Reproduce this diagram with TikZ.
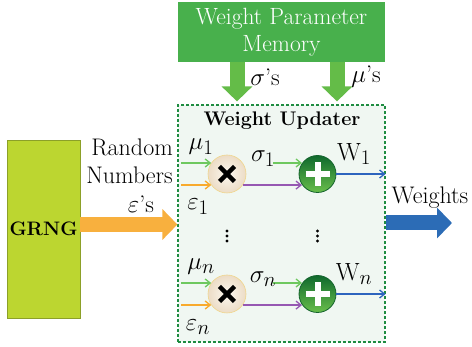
\documentclass[tikz,border=0pt]{standalone}
\usetikzlibrary{positioning, arrows.meta}

\definecolor{memgreen}{RGB}{72,176,76}
\definecolor{downgreen}{RGB}{100,188,72}
\definecolor{boxgreen}{RGB}{30,140,65}
\definecolor{boxfill}{RGB}{240,247,242}
\definecolor{grngfill}{RGB}{188,214,48}
\definecolor{grngline}{RGB}{140,160,40}
\definecolor{randorange}{RGB}{248,176,62}
\definecolor{outblue}{RGB}{44,108,182}
\definecolor{ingreen}{RGB}{110,200,95}
\definecolor{inorange}{RGB}{248,170,45}
\definecolor{mulpurple}{RGB}{150,88,178}
\definecolor{wblue}{RGB}{45,100,190}

\newcommand{\lbl}{\fontsize{24}{28}\selectfont}

\begin{document}
\begin{tikzpicture}[x=1pt, y=-1pt,
        fat/.style={line width=15pt, -{Triangle[length=15pt 0 0, width=30pt 0 0]}},
        thin arrow/.style={line width=1.3pt, -{Straight Barb[length=5pt, width=8pt]}},
        mulnode/.style={circle, minimum size=38pt, inner sep=0pt, draw={rgb,255:red,240;green,214;blue,140}, line width=0.6pt,
            inner color={rgb,255:red,252;green,248;blue,240}, outer color={rgb,255:red,236;green,220;blue,198},
            path picture={\draw[black, line width=4.5pt]
                ([shift={(-7.5pt,-7.5pt)}]path picture bounding box.center) -- ([shift={(7.5pt,7.5pt)}]path picture bounding box.center)
                ([shift={(-7.5pt,7.5pt)}]path picture bounding box.center) -- ([shift={(7.5pt,-7.5pt)}]path picture bounding box.center);}},
        addnode/.style={circle, minimum size=37pt, inner sep=0pt, draw={rgb,255:red,20;green,100;blue,45}, line width=0.8pt,
            top color={rgb,255:red,15;green,105;blue,45}, bottom color={rgb,255:red,105;green,190;blue,75},
            path picture={\draw[line width=6pt, white]
                ([xshift=-12pt]path picture bounding box.center) -- ([xshift=12pt]path picture bounding box.center)
                ([yshift=-12pt]path picture bounding box.center) -- ([yshift=12pt]path picture bounding box.center);}},
        glbl/.style={font=\fontsize{24.88}{26}\selectfont, inner sep=0pt}
    ]

        \useasboundingbox (0,0) rectangle (472,347);

        % Boxes
        \node[fill=memgreen, minimum width=207pt, minimum height=60pt, inner sep=0pt, text=white, align=center,
            font=\fontsize{23.5}{27}\selectfont] (mem) at (281.5,32) {Weight Parameter\\Memory};
        \node[fill=boxfill, draw=boxgreen, line width=1.2pt, dash pattern=on 3pt off 2pt,
            minimum width=207pt, minimum height=237pt] (upd) at (281.5,223.5) {};
        \node[font=\fontsize{20.74}{22}\selectfont\bfseries, inner sep=0pt] (updtitle) at (282,121) {\scalebox{0.95}{Weight Updater}};
        \node[fill=grngfill, draw=grngline, line width=0.8pt, minimum width=73pt, minimum height=178pt, inner sep=0pt,
            font=\fontsize{19.5}{22}\selectfont\bfseries] (grng) at (43.5,229) {GRNG};

        % Memory outputs
        \coordinate (sigx) at (237,0);
        \coordinate (mux) at (337,0);
        \draw[fat, downgreen] (mem.south -| sigx) -- ([yshift=3pt]upd.north -| sigx);
        \draw[fat, downgreen] (mem.south -| mux) -- ([yshift=3pt]upd.north -| mux);
        \node[font=\lbl, inner sep=0pt] (sigs) at (265,77) {$\sigma$’s};
        \node[font=\lbl, inner sep=0pt] (mus) at (366,77) {$\mu$’s};

        % Random numbers
        \coordinate (randy) at (0,224.5);
        \draw[fat, randorange] (grng.east |- randy) -- (upd.west |- randy);
        \node[font=\lbl, align=right, inner sep=0pt, anchor=east] (randlbl) at (173,161) {Random\\Numbers};
        \node[font=\lbl, inner sep=0pt] (epss) at (141,204) {$\varepsilon$’s};

        % Output
        \coordinate (wy) at (0,223);
        \coordinate (wend) at (452,223);
        \draw[fat, outblue] (upd.east |- wy) -- (wend);
        \node[font=\lbl, inner sep=0pt] (wlbl) at (430,198) {Weights};

        % Rows
        \foreach \r/\y in {1/174, n/294} {
            \node[mulnode] (mul\r) at (227,\y) {};
            \node[addnode] (add\r) at (317.5,\y) {};
            \coordinate (muin\r) at (181,\y-11);
            \coordinate (epsin\r) at (181,\y+11);
            \coordinate (sigin\r) at (273,\y-11);
            \draw[thin arrow, ingreen] (muin\r) -- (muin\r -| mul\r.145);
            \draw[thin arrow, inorange] (epsin\r) -- (epsin\r -| mul\r.215);
            \draw[thin arrow, mulpurple] (mul\r.325) -- (mul\r.325 -| add\r.215);
            \draw[thin arrow, ingreen] (sigin\r) -- (sigin\r -| add\r.145);
            \draw[thin arrow, wblue] (add\r.east) -- (add\r.east -| upd.east);
            \node[glbl] (mu\r) at (201,\y-27) {$\mu_{\r}$};
            \node[glbl] (eps\r) at (198,\y+33) {$\varepsilon_{\r}$};
            \node[glbl] (sig\r) at (263,\y-15) {$\sigma_{\r}$};
            \node[glbl] (w\r) at (354,\y-20) {$\mathrm{W}_{\r}$};
        }

        % Dots
        \foreach \x in {227,317.5}
            \foreach \d in {-5,0,5}
                \fill (\x,236+\d) circle (1.7pt);

    \end{tikzpicture}
\end{document}
